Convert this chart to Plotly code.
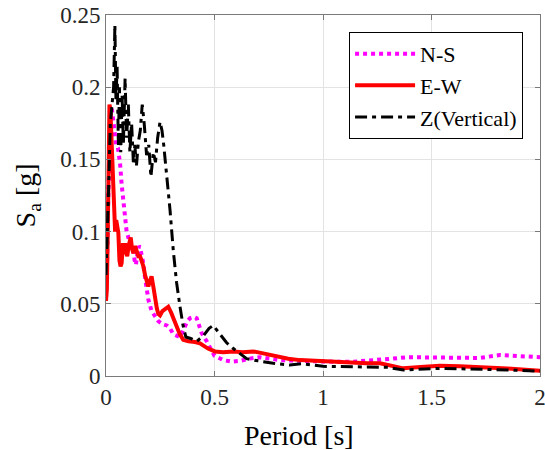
import plotly.graph_objects as go

# ---- data ----
ns_T = [0.0, 0.005, 0.01, 0.015, 0.02, 0.027, 0.034, 0.04, 0.047, 0.055, 0.065, 0.072, 0.08, 0.088,
        0.095, 0.103, 0.11, 0.118, 0.126, 0.132, 0.138, 0.145, 0.152, 0.157, 0.165, 0.172, 0.18, 0.188,
        0.195, 0.21, 0.225, 0.241, 0.26, 0.28, 0.295, 0.31, 0.325, 0.341, 0.36, 0.375, 0.387, 0.405,
        0.418, 0.44, 0.464, 0.5, 0.541, 0.58, 0.618, 0.66, 0.71, 0.76, 0.802, 0.9, 1.0, 1.07, 1.14,
        1.2, 1.263, 1.32, 1.386, 1.45, 1.57, 1.65, 1.72, 1.816, 1.9, 2.0]
ns_Sa = [0.063, 0.08, 0.12, 0.16, 0.18, 0.185, 0.175, 0.17, 0.16, 0.158, 0.147, 0.133, 0.12, 0.11,
         0.1, 0.096, 0.09, 0.088, 0.087, 0.08, 0.077, 0.085, 0.09, 0.089, 0.083, 0.078, 0.068, 0.058,
         0.053, 0.045, 0.041, 0.038, 0.036, 0.035, 0.033, 0.029, 0.028, 0.027, 0.033, 0.038, 0.04, 0.041,
         0.04, 0.03, 0.024, 0.014, 0.011, 0.0099, 0.0105, 0.012, 0.013, 0.012, 0.011, 0.0105, 0.0099,
         0.0098, 0.0099, 0.0105, 0.011, 0.012, 0.013, 0.013, 0.013, 0.0125, 0.0125, 0.0145, 0.014, 0.013]

ew_T = [0.0, 0.004, 0.008, 0.012, 0.016, 0.02, 0.026, 0.032, 0.038, 0.042, 0.047, 0.052, 0.057, 0.062,
        0.067, 0.072, 0.078, 0.083, 0.088, 0.093, 0.098, 0.104, 0.109, 0.114, 0.12, 0.126, 0.134, 0.141,
        0.149, 0.157, 0.164, 0.172, 0.18, 0.187, 0.195, 0.203, 0.21, 0.218, 0.226, 0.234, 0.241, 0.249,
        0.26, 0.275, 0.287, 0.3, 0.32, 0.34, 0.356, 0.38, 0.41, 0.433, 0.47, 0.502, 0.54, 0.587, 0.63,
        0.679, 0.73, 0.786, 0.84, 0.894, 0.95, 1.0, 1.06, 1.124, 1.2, 1.263, 1.32, 1.37, 1.45, 1.539,
        1.63, 1.72, 1.85, 2.0]
ew_Sa = [0.052, 0.06, 0.10, 0.16, 0.188, 0.185, 0.16, 0.145, 0.12, 0.10, 0.108, 0.1, 0.099, 0.08,
         0.076, 0.078, 0.092, 0.086, 0.092, 0.085, 0.083, 0.09, 0.095, 0.096, 0.088, 0.085, 0.09, 0.087,
         0.083, 0.083, 0.08, 0.076, 0.07, 0.065, 0.062, 0.066, 0.069, 0.062, 0.052, 0.047, 0.043, 0.042,
         0.045, 0.047, 0.048, 0.044, 0.036, 0.029, 0.025, 0.024, 0.0235, 0.0226, 0.019, 0.017, 0.0165,
         0.017, 0.0165, 0.017, 0.0155, 0.0134, 0.012, 0.011, 0.0105, 0.0099, 0.0095, 0.0088, 0.0088,
         0.0088, 0.007, 0.0053, 0.0063, 0.0071, 0.0068, 0.0064, 0.0052, 0.0037]

z_T = [0.0, 0.005, 0.012, 0.02, 0.028, 0.035, 0.041, 0.046, 0.051, 0.057, 0.062, 0.068, 0.074, 0.08,
       0.088, 0.095, 0.103, 0.11, 0.118, 0.126, 0.133, 0.14, 0.149, 0.158, 0.167, 0.176, 0.187, 0.197,
       0.207, 0.218, 0.228, 0.238, 0.249, 0.258, 0.266, 0.28, 0.295, 0.31, 0.325, 0.341, 0.355, 0.368,
       0.39, 0.418, 0.45, 0.475, 0.494, 0.52, 0.556, 0.587, 0.648, 0.7, 0.771, 0.848, 0.9, 1.0, 1.11,
       1.25, 1.3, 1.37, 1.45, 1.54, 1.63, 1.72, 1.85, 2.0]
z_Sa = [0.07, 0.09, 0.13, 0.175, 0.19, 0.2, 0.243, 0.19, 0.215, 0.16, 0.2, 0.155, 0.195, 0.16,
        0.206, 0.165, 0.188, 0.155, 0.175, 0.148, 0.16, 0.145, 0.162, 0.17, 0.188, 0.175, 0.153, 0.16,
        0.138, 0.155, 0.148, 0.165, 0.176, 0.17, 0.16, 0.14, 0.115, 0.087, 0.065, 0.048, 0.035, 0.027,
        0.026, 0.024, 0.028, 0.033, 0.035, 0.03, 0.023, 0.019, 0.012, 0.0105, 0.0088, 0.0076, 0.0085,
        0.0067, 0.0064, 0.0064, 0.006, 0.0041, 0.0048, 0.0053, 0.005, 0.0048, 0.0042, 0.0034]

x_ticks = [0, 0.5, 1, 1.5, 2]
x_ticktext = ["0", "0.5", "1", "1.5", "2"]
y_ticks = [0, 0.05, 0.1, 0.15, 0.2, 0.25]
y_ticktext = ["0", "0.05", "0.1", "0.15", "0.2", "0.25"]

FONT = "Liberation Serif"
TXT = "#262626"

fig = go.Figure()
fig.add_trace(go.Scatter(x=ns_T, y=ns_Sa, mode="lines", name="N-S",
                         line=dict(color="#FF00FF", width=4, dash="dot")))
fig.add_trace(go.Scatter(x=ew_T, y=ew_Sa, mode="lines", name="E-W",
                         line=dict(color="#FF0000", width=4)))
fig.add_trace(go.Scatter(x=z_T, y=z_Sa, mode="lines", name="Z(Vertical)",
                         line=dict(color="#000000", width=3, dash="12px,5px,4px,5px")))

axis_common = dict(showline=True, linecolor="#7a7a7a", linewidth=1, mirror="ticks",
                   ticks="inside", ticklen=5, tickcolor="#7a7a7a", automargin=False,
                   ticklabeloverflow="allow",
                   showgrid=True, gridcolor="#e3e3e3", gridwidth=1, zeroline=False,
                   tickfont=dict(family=FONT, size=23, color=TXT))

fig.update_xaxes(range=[0, 2], tickvals=x_ticks, ticktext=x_ticktext, **axis_common)
fig.update_yaxes(range=[0, 0.25], tickvals=y_ticks, ticktext=y_ticktext, **axis_common)

fig.update_layout(
    width=545, height=450,
    margin=dict(l=106, r=5, t=15, b=74, autoexpand=False),
    paper_bgcolor="white", plot_bgcolor="white",
    font=dict(family=FONT, color=TXT),
    legend=dict(x=0.961, y=0.953, xanchor="right", yanchor="top",
                bgcolor="white", bordercolor="#000000", borderwidth=1,
                font=dict(family=FONT, size=22, color="#000000"),
                itemwidth=60, tracegroupgap=0),
    annotations=[
        dict(text="Period [s]", xref="paper", yref="paper", x=0.445, y=-0.115,
             xanchor="center", yanchor="top", showarrow=False,
             font=dict(family=FONT, size=28, color="#000000")),
        dict(text="S<sub>a</sub> [g]", xref="paper", yref="paper", x=-0.18, y=0.5,
             xanchor="center", yanchor="middle", textangle=-90, showarrow=False,
             font=dict(family=FONT, size=28, color="#000000")),
    ],
)

fig.write_html("out.html")
